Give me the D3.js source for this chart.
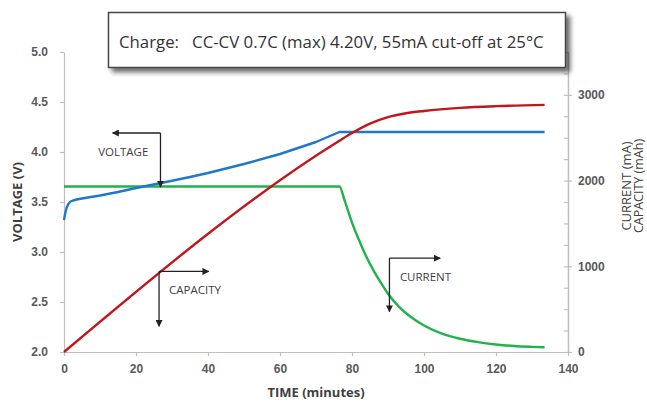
<!DOCTYPE html>
<html><head><meta charset="utf-8">
<script src="https://cdn.jsdelivr.net/npm/d3@7"></script>
<style>
html,body{margin:0;padding:0;background:#fff;}
svg{display:block;font-family:"Open Sans",sans-serif;}
</style></head>
<body>
<svg id="chart" width="647" height="402"></svg>
<script>
// ---- data ----
const titleText = "Charge:   CC-CV 0.7C (max) 4.20V, 55mA cut-off at 25°C";
const xTicks = [0, 20, 40, 60, 80, 100, 120, 140];
const vTicks = [2.0, 2.5, 3.0, 3.5, 4.0, 4.5, 5.0];
const rTicks = [0, 1000, 2000, 3000];

const voltageTime = [0, 0.3, 0.7, 1.2, 1.8, 2.5, 3.5, 5, 10, 15, 20, 27, 35, 40, 50, 60, 65, 70, 76.5, 90, 100, 110, 120, 133.5];
const voltage     = [3.32, 3.38, 3.44, 3.48, 3.505, 3.515, 3.525, 3.535, 3.565, 3.60, 3.64, 3.69, 3.75, 3.79, 3.88, 3.98, 4.04, 4.10, 4.20, 4.20, 4.20, 4.20, 4.20, 4.20];

const capacityTime = [0, 76.5, 80, 85, 90, 95, 100, 110, 120, 133.5];
const capacity     = [0, 2465, 2555, 2665, 2740, 2785, 2812, 2848, 2868, 2883];

const currentTime = [0, 76.5, 78, 80, 82, 84, 86, 88, 90, 93, 96, 100, 105, 110, 115, 120, 125, 130, 133.5];
const current     = [1930, 1930, 1760, 1510, 1300, 1110, 950, 810, 680, 530, 420, 310, 215, 155, 115, 88, 70, 60, 55];

// annotation arrows (data coordinates): corner, horizontal tip, vertical tip, label
const annVoltage  = {t: 26.8, v: 4.19, tH: 13.5, vV: 3.65, label: "VOLTAGE", lt: 9.5, lv: 4.005};
const annCapacity = {t: 26.4, c: 940, tH: 40.2, cV: 300, label: "CAPACITY", lt: 29.2, lc: 725};
const annCurrent  = {t: 90.4, c: 1095, tH: 104.5, cV: 470, label: "CURRENT", lt: 93.3, lc: 880};

// ---- layout ----
const svg = d3.select("#chart");
const L = 64, R = 568, T = 52, B = 352;
const x = d3.scaleLinear().domain([0, 140]).range([L, R]);
const yV = d3.scaleLinear().domain([2, 5]).range([B, T]);
const yR = d3.scaleLinear().domain([0, 3500]).range([B, T]);

const axisColor = "#bfbfbf", labelColor = "#595959";

// defs
const defs = svg.append("defs");
const f = defs.append("filter").attr("id","shadow").attr("x","-10%").attr("y","-20%").attr("width","130%").attr("height","160%");
f.append("feGaussianBlur").attr("in","SourceAlpha").attr("stdDeviation",2.5).attr("result","b");
f.append("feOffset").attr("in","b").attr("dx",4).attr("dy",4).attr("result","o");
f.append("feComponentTransfer").attr("in","o").attr("result","o2")
  .append("feFuncA").attr("type","linear").attr("slope",0.6);
const m = f.append("feMerge");
m.append("feMergeNode").attr("in","o2");
m.append("feMergeNode").attr("in","SourceGraphic");
defs.append("marker").attr("id","arrow").attr("viewBox","0 0 10 10").attr("refX",9).attr("refY",5)
  .attr("markerWidth",7).attr("markerHeight",7).attr("markerUnits","userSpaceOnUse").attr("orient","auto")
  .append("path").attr("d","M0,0 L10,5 L0,10 z").attr("fill","#222");

function styleAxis(g){
  g.select(".domain").attr("stroke", axisColor).attr("stroke-width",1.2);
  g.selectAll(".tick line").attr("stroke", axisColor).attr("stroke-width",1.2);
  g.selectAll(".tick text").attr("fill", labelColor).attr("font-weight","bold").attr("font-size",12);
}

// x axis
svg.append("g").attr("transform",`translate(0,${B})`)
  .call(d3.axisBottom(x).tickValues(xTicks).tickSize(4).tickPadding(8).tickSizeOuter(0).tickFormat(d3.format("d")))
  .call(styleAxis);
// left axis
svg.append("g").attr("transform",`translate(${L},0)`)
  .call(d3.axisLeft(yV).tickValues(vTicks).tickSize(4).tickPadding(12).tickSizeOuter(0).tickFormat(d3.format(".1f")))
  .call(styleAxis);
// right axis (minor inner ticks)
const minor = d3.range(0, 3501, 250).filter(d => d % 1000 !== 0);
svg.append("g").attr("transform",`translate(${R},0)`)
  .call(d3.axisLeft(yR).tickValues(minor).tickSize(4).tickSizeOuter(0).tickFormat(""))
  .call(styleAxis);
svg.append("g").attr("transform",`translate(${R},0)`)
  .call(d3.axisLeft(yR).tickValues(rTicks).tickSize(4).tickSizeOuter(0).tickFormat(""))
  .call(styleAxis);
svg.append("g").attr("transform",`translate(${R},0)`)
  .call(d3.axisRight(yR).tickValues(rTicks).tickSize(4).tickPadding(6).tickSizeOuter(0).tickFormat(d3.format("d")))
  .call(styleAxis);

// axis titles
svg.append("text").attr("transform",`translate(22,${(T+B)/2}) rotate(-90)`).attr("text-anchor","middle")
  .attr("font-weight","bold").attr("font-size",13).attr("fill","#404040").text("VOLTAGE (V)");
svg.append("text").attr("x",(L+R)/2).attr("y",397).attr("text-anchor","middle")
  .attr("font-weight","bold").attr("font-size",13).attr("fill","#404040").text("TIME (minutes)");
svg.append("text").attr("transform",`translate(631,186) rotate(-90)`).attr("text-anchor","middle")
  .attr("font-size",13).attr("fill","#404040").text("CURRENT (mA)");
svg.append("text").attr("transform",`translate(643,186) rotate(-90)`).attr("text-anchor","middle")
  .attr("font-size",12.5).attr("fill","#404040").text("CAPACITY (mAh)");

// series
const lineV = d3.line().x((d,i)=>x(voltageTime[i])).y(d=>yV(d)).curve(d3.curveLinear);
const lineC = d3.line().x((d,i)=>x(capacityTime[i])).y(d=>yR(d)).curve(d3.curveMonotoneX);
const lineI = d3.line().x((d,i)=>x(currentTime[i])).y(d=>yR(d)).curve(d3.curveMonotoneX);

svg.append("path").attr("d", lineI(current)).attr("fill","none").attr("stroke","#22b24c").attr("stroke-width",2.4);
svg.append("path").attr("d", lineV(voltage)).attr("fill","none").attr("stroke","#1f78c8").attr("stroke-width",2.4).attr("stroke-linejoin","round");
svg.append("path").attr("d", lineC(capacity)).attr("fill","none").attr("stroke","#c0161c").attr("stroke-width",2.4);

// annotations
function ann(cx, cy, hx, vy, lx, ly, label){
  const g = svg.append("g");
  g.append("line").attr("x1",cx).attr("y1",cy).attr("x2",hx).attr("y2",cy)
    .attr("stroke","#222").attr("stroke-width",1.3).attr("marker-end","url(#arrow)");
  g.append("line").attr("x1",cx).attr("y1",cy).attr("x2",cx).attr("y2",vy)
    .attr("stroke","#222").attr("stroke-width",1.3).attr("marker-end","url(#arrow)");
  g.append("text").attr("x",lx).attr("y",ly).attr("dy","0.35em").attr("font-size",11.5)
    .attr("fill","#404040").text(label);
}
ann(x(annVoltage.t), yV(annVoltage.v), x(annVoltage.tH), yV(annVoltage.vV), x(annVoltage.lt), yV(annVoltage.lv), annVoltage.label);
ann(x(annCapacity.t), yR(annCapacity.c), x(annCapacity.tH), yR(annCapacity.cV), x(annCapacity.lt), yR(annCapacity.lc), annCapacity.label);
ann(x(annCurrent.t), yR(annCurrent.c), x(annCurrent.tH), yR(annCurrent.cV), x(annCurrent.lt), yR(annCurrent.lc), annCurrent.label);

// title box
const tb = svg.append("g");
tb.append("rect").attr("x",108.5).attr("y",12.5).attr("width",457).attr("height",55)
  .attr("fill","#fff").attr("stroke","#444").attr("stroke-width",1.5).attr("filter","url(#shadow)");
tb.append("text").attr("x",119).attr("y",42).attr("dy","0.35em").attr("font-size",16.8)
  .attr("fill","#333").attr("xml:space","preserve").style("white-space","pre").text(titleText);
</script>
</body></html>
